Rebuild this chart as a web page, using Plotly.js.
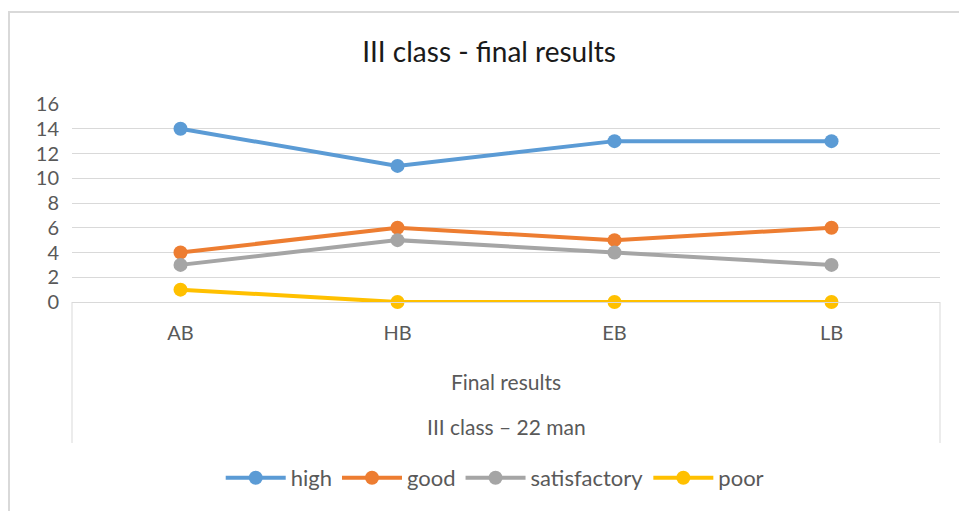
<!DOCTYPE html>
<html><head><meta charset="utf-8">
<script src="https://cdn.plot.ly/plotly-3.0.1.min.js"></script>
<style>
html,body{margin:0;padding:0;background:#fff;}
#wrap{position:relative;width:959px;height:511px;overflow:hidden;}
#chart{position:absolute;left:0;top:0;width:959px;height:511px;}
#frame{position:absolute;left:8px;top:11px;width:960px;height:510px;border-left:2px solid #d9d9d9;border-top:2px solid #d9d9d9;pointer-events:none;}
</style>
</head><body>
<div id="wrap"><div id="chart"></div><div id="frame"></div></div>
<script>
const categories = ["AB", "HB", "EB", "LB"];
const seriesNames = ["high", "good", "satisfactory", "poor"];
const highVals = [14, 11, 13, 13];
const goodVals = [4, 6, 5, 6];
const satisfactoryVals = [3, 5, 4, 3];
const poorVals = [1, 0, 0, 0];
const yTicks = [0, 2, 4, 6, 8, 10, 12, 14, 16];
const titleText = "III class - final results";
const xTitleText = "Final results";
const subTitleText = "III class – 22 man";

const colors = ["#5B9BD5", "#ED7D31", "#A5A5A5", "#FFC000"];
const allVals = [highVals, goodVals, satisfactoryVals, poorVals];
const FONT = "Lato, 'Open Sans', sans-serif";

const traces = allVals.map((v, i) => ({
  type: "scatter", mode: "lines+markers",
  x: categories, y: v, name: seriesNames[i],
  line: {color: colors[i], width: 4},
  marker: {color: colors[i], size: 14},
  cliponaxis: false
}));

const layout = {
  width: 959, height: 511,
  margin: {l: 72, r: 19, t: 104, b: 209},
  paper_bgcolor: "#fff", plot_bgcolor: "#fff",
  font: {family: FONT, color: "#595959", size: 20},
  title: {text: titleText, x: 0.51, xanchor: "center", y: 0.898, yanchor: "middle",
          font: {family: FONT, size: 28, color: "#1a1a1a"}},
  xaxis: {
    type: "category", range: [-0.5, 3.5],
    showgrid: false, zeroline: false, showline: true, linecolor: "#d9d9d9", linewidth: 1,
    ticks: "outside", ticklen: 13, tickcolor: "rgba(0,0,0,0)",
    tickfont: {family: FONT, size: 20, color: "#595959"},
    fixedrange: true
  },
  yaxis: {
    range: [0, 16], tickvals: yTicks, ticktext: yTicks.map(String),
    showgrid: true, gridcolor: "#d9d9d9", gridwidth: 1, zeroline: false, showline: false,
    ticks: "outside", ticklen: 8, tickcolor: "rgba(0,0,0,0)",
    tickfont: {family: FONT, size: 20, color: "#595959"},
    fixedrange: true
  },
  showlegend: true,
  legend: {orientation: "h", x: 0.487, xanchor: "center", y: -0.889, yanchor: "middle",
           font: {family: FONT, size: 22, color: "#595959"}, itemwidth: 60, traceorder: "normal"},
  shapes: [
    {type: "line", xref: "paper", yref: "paper", x0: 0, x1: 0, y0: 0, y1: -0.712, line: {color: "#d9d9d9", width: 1}},
    {type: "line", xref: "paper", yref: "paper", x0: 1, x1: 1, y0: 0, y1: -0.712, line: {color: "#d9d9d9", width: 1}}
  ],
  annotations: [
    {text: xTitleText, xref: "paper", yref: "paper", x: 0.5, y: -0.399, showarrow: false,
     xanchor: "center", yanchor: "middle", font: {family: FONT, size: 21, color: "#595959"}},
    {text: subTitleText, xref: "paper", yref: "paper", x: 0.5, y: -0.631, showarrow: false,
     xanchor: "center", yanchor: "middle", font: {family: FONT, size: 21, color: "#595959"}}
  ]
};

Plotly.newPlot("chart", traces, layout, {displayModeBar: false, staticPlot: true});
</script>
</body></html>
